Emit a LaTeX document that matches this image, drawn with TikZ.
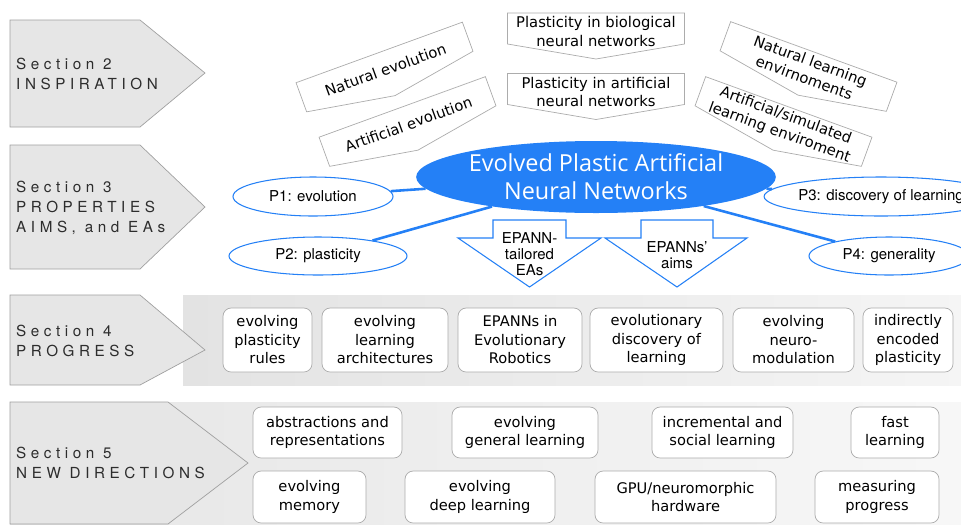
\documentclass[tikz,border=0pt]{standalone}
\usepackage{fontspec}
\setmainfont{DejaVu Sans}
\newfontfamily\heros{TeX Gyre Heros}
\newfontfamily\secfont[LetterSpace=30]{TeX Gyre Heros}
\newfontfamily\titlefont{Open Sans}
\usetikzlibrary{shapes.geometric}

\definecolor{epblue}{RGB}{36,128,246}
\definecolor{secgray}{RGB}{230,230,230}
\definecolor{secline}{RGB}{160,160,160}
\definecolor{boxline}{RGB}{172,172,172}
\definecolor{sectext}{RGB}{45,45,45}

\newcommand{\pxu}{0.03cm}
% banner box of the inspiration row: name, x, y, angle, text
\newcommand{\inspo}[5]{%
  \begin{scope}[shift={(#2,#3)},rotate=#4]
    \draw[inspoline] (-88.5,-15.5) -- (88.5,-15.5) -- (88.5,15.5) -- (0,30.5) -- (-88.5,15.5) -- cycle;
    \node[inspotext,rotate=#4] (#1) at (0,3) {#5};
  \end{scope}}

\tikzset{
  boxsize/.style 2 args={minimum width=#1*\pxu, minimum height=#2*\pxu},
  section/.style={fill=secgray, draw=secline, line width=0.6pt},
  sectext/.style={anchor=west, align=left, inner sep=0pt, text=sectext, font=\secfont\fontsize{13}{17}\selectfont},
  inspoline/.style={draw=boxline, fill=white, line width=0.6pt},
  inspotext/.style={align=center, inner sep=0pt, font=\fontsize{12.6}{15.4}\selectfont},
  prop/.style={ellipse, draw=epblue, fill=white, line width=0.9pt, inner sep=0pt, font=\heros\fontsize{12.8}{15}\selectfont},
  link/.style={epblue, line width=2.2pt},
  aimarrow/.style={draw=epblue, fill=white, line width=0.9pt},
  aimtext/.style={align=center, inner sep=0pt, font=\heros\fontsize{12.8}{13.7}\selectfont},
  progbox/.style={draw=boxline, fill=white, rounded corners=7pt, align=center, inner sep=0pt, line width=0.6pt, font=\fontsize{12.5}{15.8}\selectfont},
}

\begin{document}
\begin{tikzpicture}[x=0.03cm,y=-0.03cm]
  \useasboundingbox (0,0) rectangle (961,524);
  \clip (0,0) rectangle (961,524);

  % bands behind sections 4 and 5
  \fill[left color=black!11, right color=black!4] (183,295) rectangle (961,385);
  \fill[left color=black!10, right color=black!3] (10,402) rectangle (961,524);

  % section arrows
  \draw[section] (10,20) -- (140,20) -- (205,73) -- (140,127) -- (10,127) -- cycle;
  \node[sectext] (sec2) at (16,74) {Section 2\\INSPIRATION};
  \draw[section] (10,145) -- (140,145) -- (205,207) -- (140,269) -- (10,269) -- cycle;
  \node[sectext] (sec3) at (16,208) {Section 3\\PROPERTIES\\AIMS, and EAs};
  \draw[section] (10,295) -- (140,295) -- (205,350) -- (140,385) -- (10,385) -- cycle;
  \node[sectext] (sec4) at (16,341) {Section 4\\PROGRESS};
  \draw[section] (10,402) -- (168,402) -- (248,463) -- (168,524) -- (10,524) -- cycle;
  \node[sectext] (sec5) at (16,463) {Section 5\\NEW DIRECTIONS};

  % inspiration
  \inspo{natevo}{384.5}{67}{20}{Natural evolution}
  \inspo{artevo}{407.5}{121.5}{20}{Artificial evolution}
  \inspo{bioplast}{596}{28.5}{0}{Plasticity in biological\\neural networks}
  \inspo{annplast}{596}{89}{0}{Plasticity in artificial\\neural networks}
  \inspo{natenv}{808.5}{66.5}{-20}{Natural learning\\envirnoments}
  \inspo{artenv}{783.5}{121.5}{-20}{Artificial/simulated\\learning enviroment}

  % properties, aims and EAs
  \node[ellipse, fill=epblue, text=white, inner sep=0pt, boxsize={348}{72}, align=center,
        font=\titlefont\fontsize{20}{24}\selectfont] (epann) at (596,177)
        {Evolved Plastic Artificial\\Neural Networks};
  \node[prop, boxsize={160}{39}] (p1) at (313,196.5) {P1: evolution};
  \node[prop, boxsize={178}{38}] (p2) at (318,256) {P2: plasticity};
  \node[prop, boxsize={178}{39}] (p3) at (881,196.5) {P3: discovery of learning};
  \node[prop, boxsize={160}{38}] (p4) at (889,256) {P4: generality};
  \draw[link] (epann) -- (p1);
  \draw[link] (epann) -- (p2);
  \draw[link] (epann) -- (p3);
  \draw[link] (epann) -- (p4);

  \draw[aimarrow] (493,220) -- (566,220) -- (566,238) -- (601,238) -- (529.5,287) -- (458,238) -- (493,238) -- cycle;
  \node[aimtext] (eas) at (529.5,254) {EPANN-\\tailored\\EAs};
  \draw[aimarrow] (641,220) -- (713,220) -- (713,238) -- (747,238) -- (677,287) -- (605,238) -- (641,238) -- cycle;
  \node[aimtext] (aims) at (677,255) {EPANNs’\\aims};

  % progress
  \node[progbox, boxsize={89}{64}] (rules) at (267.5,340) {evolving\\plasticity\\rules};
  \node[progbox, boxsize={126}{64}] (archs) at (385,340) {evolving\\learning\\architectures};
  \node[progbox, boxsize={124}{64}] (robots) at (520,340) {EPANNs in\\Evolutionary\\Robotics};
  \node[progbox, boxsize={133}{64}] (discov) at (656.5,340) {evolutionary\\discovery of\\learning};
  \node[progbox, boxsize={121}{64}] (neuromod) at (793.5,340) {evolving\\neuro-\\modulation};
  \node[progbox, boxsize={90}{64}] (indirect) at (908,340) {indirectly\\encoded\\plasticity};

  % new directions
  \node[progbox, boxsize={149}{51}] (abstr) at (327.5,432.5) {abstractions and\\representations};
  \node[progbox, boxsize={146}{51}] (general) at (525,432.5) {evolving\\general learning};
  \node[progbox, boxsize={141}{51}] (social) at (722.5,432.5) {incremental and\\social learning};
  \node[progbox, boxsize={88}{51}] (fast) at (895,432.5) {fast\\learning};
  \node[progbox, boxsize={113}{52}] (memory) at (309.5,497) {evolving\\memory};
  \node[progbox, boxsize={150}{52}] (deep) at (480,497) {evolving\\deep learning};
  \node[progbox, boxsize={181}{52}] (hardware) at (685.5,497) {GPU/neuromorphic\\hardware};
  \node[progbox, boxsize={124}{52}] (measure) at (877,497) {measuring\\progress};
\end{tikzpicture}
\end{document}
